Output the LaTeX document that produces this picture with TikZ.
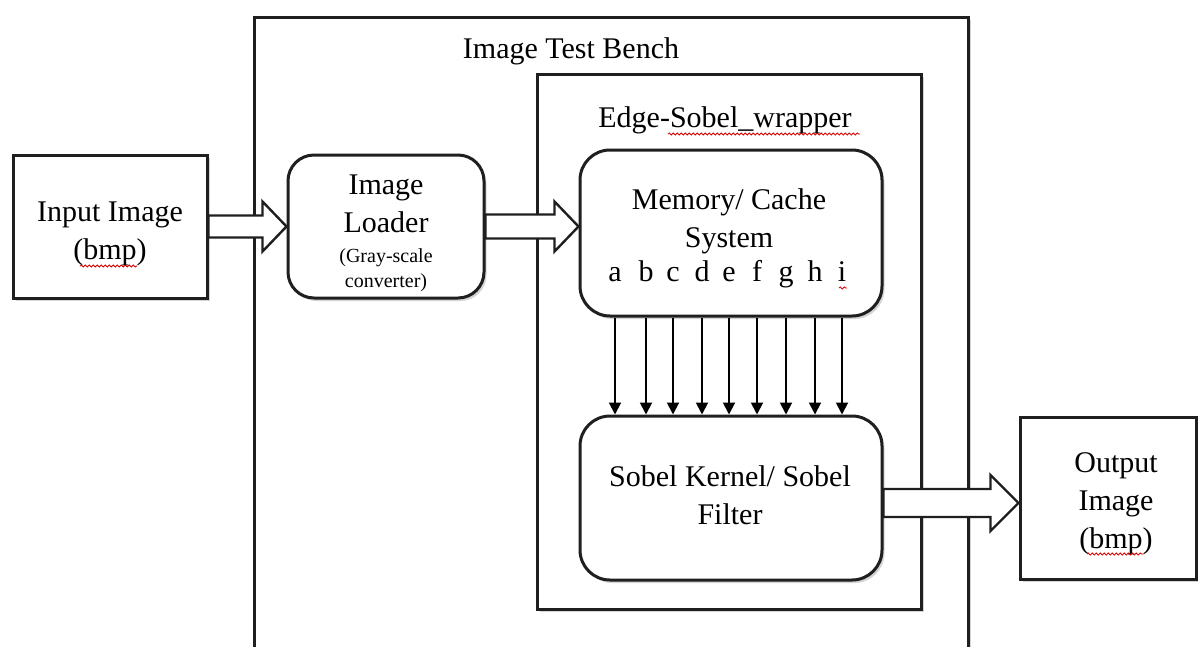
\documentclass[tikz,border=0pt]{standalone}
\usepackage{fontspec}
\setmainfont{Liberation Serif}
\usetikzlibrary{shadows,arrows.meta,decorations.pathmorphing,calc}

\tikzset{
  frame/.style={draw=black!88, line width=3pt, fill=white,
    drop shadow={shadow xshift=2.5pt, shadow yshift=-3pt, opacity=.28, fill=black!60}},
  sqbox/.style={frame, rectangle, inner sep=0pt},
  rbox/.style={frame, rectangle, rounded corners=26pt, inner sep=0pt},
  lbl/.style={font=\fontsize{30}{38}\selectfont, align=center, inner sep=0pt},
  smalllbl/.style={font=\fontsize{20}{25}\selectfont, align=center, inner sep=0pt},
  blockarrow/.style={draw=black!88, line width=2.4pt, fill=white, line join=miter},
  tap/.style={draw=black, line width=1.9pt, -{Triangle[length=12pt,width=12pt]}},
  spellmark/.style={draw=red!85!black, line width=0.8pt, decorate,
    decoration={snake, amplitude=1.1pt, segment length=4pt}}
}

\begin{document}
\begin{tikzpicture}[x=1pt,y=-1pt]
  \useasboundingbox (0,0) rectangle (1198,646);
  \clip (0,0) rectangle (1198,646);
  \fill[white] (0,0) rectangle (1198,646);

  % containers
  \node[sqbox, minimum width=714pt, minimum height=683pt] (bench) at (611,358.5) {};
  \node[lbl, anchor=base] (benchtitle) at (571,58) {Image Test Bench};
  \node[sqbox, minimum width=384pt, minimum height=535pt] (wrap) at (729,341.5) {};
  \node[lbl, anchor=base] (wraptitle) at (725,127) {Edge-Sobel\_wrapper};

  % blocks (multi-line labels are anchored at the baseline of their last line)
  \node[sqbox, minimum width=194pt, minimum height=143pt] (inp) at (110,226.5) {};
  \node[lbl, anchor=base] (inptxt) at (110,259) {Input Image\\(bmp)};

  \node[rbox, minimum width=196pt, minimum height=143pt] (load) at (386,226.5) {};
  \node[lbl, anchor=base] (loadtxt) at (386,232) {Image\\Loader};
  \node[smalllbl, anchor=base] (loadsub) at (386,287) {(Gray-scale\\converter)};

  \node[rbox, rounded corners=30pt, minimum width=302pt, minimum height=166pt] (mem) at (731,233) {};
  \node[lbl, anchor=base] (memtxt) at (729,247) {Memory/ Cache\\System};

  \node[rbox, rounded corners=30pt, minimum width=302pt, minimum height=164pt] (sob) at (731,498) {};
  \node[lbl, anchor=base] (sobtxt) at (730,524) {Sobel Kernel/ Sobel\\Filter};

  \node[sqbox, minimum width=176pt, minimum height=162pt] (outp) at (1108,498) {};
  \node[lbl, anchor=base] (outtxt) at (1116,548) {Output\\Image\\(bmp)};

  % pixel taps from the cache to the kernel
  \foreach \x/\c in {615/a,646/b,673/c,702/d,729/e,757/f,786/g,815/h,842/i} {
    \node[lbl, anchor=base] (px-\c) at (\x,281) {\c};
    \draw[tap] (\x,0 |- mem.south) -- (\x,0 |- sob.north);
  }

  % block arrows
  \draw[blockarrow] let \p1=(inp.east), \p2=(load.west) in
    (\x1,\y1+11pt) -- (\x2-24pt,\y1+11pt) -- (\x2-24pt,\y1+25pt) -- (\x2,\y1)
    -- (\x2-24pt,\y1-25pt) -- (\x2-24pt,\y1-11pt) -- (\x1,\y1-11pt) -- cycle;
  \draw[blockarrow] let \p1=(load.east), \p2=(mem.west) in
    (\x1,\y1+12pt) -- (\x2-24pt,\y1+12pt) -- (\x2-24pt,\y1+25pt) -- (\x2,\y1)
    -- (\x2-24pt,\y1-25pt) -- (\x2-24pt,\y1-12pt) -- (\x1,\y1-12pt) -- cycle;
  \draw[blockarrow] let \p1=(sob.east), \p2=(outp.west) in
    (\x1,\y1-5pt+14pt) -- (\x2-28pt,\y1-5pt+14pt) -- (\x2-28pt,\y1-5pt+28pt) -- (\x2,\y1-5pt)
    -- (\x2-28pt,\y1-5pt-28pt) -- (\x2-28pt,\y1-5pt-14pt) -- (\x1,\y1-5pt-14pt) -- cycle;

  % spell-check marks under the flagged words
  \draw[spellmark] (80,266) -- (137,266);
  \draw[spellmark] (668,134) -- (860,134);
  \draw[spellmark] (839,288) -- (847,288);
  \draw[spellmark] (1087,554) -- (1143,554);
\end{tikzpicture}
\end{document}
